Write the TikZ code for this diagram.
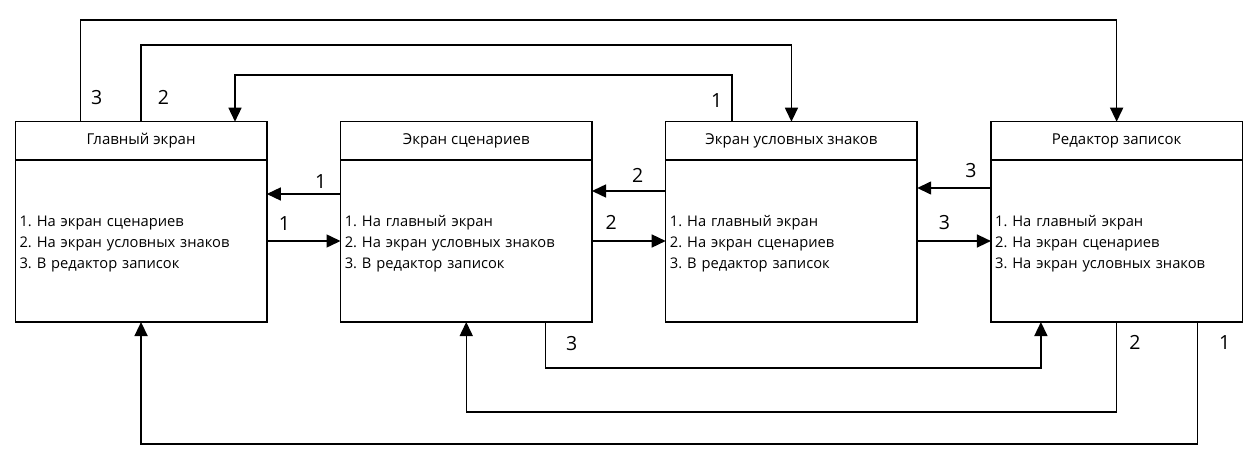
\documentclass[tikz,border=0pt]{standalone}
\usepackage{fontspec}
\setmainfont{Open Sans}
\frenchspacing
\usetikzlibrary{positioning}
\usetikzlibrary{arrows.meta}

\begin{document}
\begin{tikzpicture}[x=1pt,y=1pt]
	\tikzstyle{head}=[rectangle,draw,line width=1.5pt,outer sep=0pt,minimum width=251.5pt,minimum height=38.3pt,font=\fontsize{15}{18}\selectfont]
	\tikzstyle{body}=[rectangle,draw,line width=1.5pt,outer sep=0pt,minimum width=251.5pt,minimum height=162pt,text width=243pt,inner xsep=4pt,align=left,font=\fontsize{14.7}{21}\selectfont,execute at begin node={\rule{0pt}{16pt}}]
	\tikzstyle{arr}=[line width=1.5pt,-{Triangle[length=14pt,width=13pt]}]
	\tikzstyle{num}=[font=\fontsize{19.5}{20}\selectfont,inner sep=0pt]

	\useasboundingbox (0,0) rectangle (1253,459);

	% screens
	\node[head] (glh) at (141.05,318.15) {Главный экран};
	\node[body,below=0pt of glh] (gl) {1. На экран сценариев\\2. На экран условных знаков\\3. В редактор записок};
	\node[head,right=73.7pt of glh] (sch) {Экран сценариев};
	\node[body,below=0pt of sch] (sc) {1. На главный экран\\2. На экран условных знаков\\3. В редактор записок};
	\node[head,right=73.7pt of sch] (cdh) {Экран условных знаков};
	\node[body,below=0pt of cdh] (cd) {1. На главный экран\\2. На экран сценариев\\3. В редактор записок};
	\node[head,right=73.7pt of cdh] (rdh) {Редактор записок};
	\node[body,below=0pt of rdh] (rd) {1. На главный экран\\2. На экран сценариев\\3. На экран условных знаков};

	% neighbours
	\draw[arr] ([yshift=47pt]sc.west) -- node[num,above=5pt,pos=0.27]{1} ([yshift=47pt]gl.east);
	\draw[arr] (gl.east) -- node[num,above=10pt,pos=0.24]{1} (sc.west);
	\draw[arr] ([yshift=50pt]cd.west) -- node[num,above=8pt,pos=0.38]{2} ([yshift=50pt]sc.east);
	\draw[arr] (sc.east) -- node[num,above=11pt,pos=0.26]{2} (cd.west);
	\draw[arr] ([yshift=53pt]rd.west) -- node[num,above=10pt,pos=0.27]{3} ([yshift=53pt]cd.east);
	\draw[arr] (cd.east) -- node[num,above=11pt,pos=0.37]{3} (rd.west);

	% links over the top
	\coordinate (top1) at (0,384);
	\coordinate (top2) at (0,414);
	\coordinate (top3) at (0,439);
	\coordinate (t3s) at ([xshift=65pt]glh.north west);
	\draw[arr] (t3s) -- node[num,right=10pt,pos=0.24]{3} (t3s |- top3) -| (rdh.north);
	\draw[arr] (glh.north) -- node[num,right=16pt,pos=0.32]{2} (glh.north |- top2) -| (cdh.north);
	\coordinate (t1s) at ([xshift=66.3pt]cdh.north west);
	\coordinate (t1e) at ([xshift=219.7pt]glh.north west);
	\draw[arr] (t1s) -- node[num,left=9pt,pos=0.46]{1} (t1s |- top1) -| (t1e);

	% links under the bottom
	\coordinate (bot3) at (0,91);
	\coordinate (bot2) at (0,47);
	\coordinate (bot1) at (0,15);
	\coordinate (b3s) at ([xshift=204.8pt]sc.south west);
	\coordinate (b3e) at ([xshift=50pt]rd.south west);
	\draw[arr] (b3s) -- node[num,right=20pt,pos=0.46]{3} (b3s |- bot3) -| (b3e);
	\draw[arr] (rd.south) -- node[num,right=12pt,pos=0.23]{2} (rd.south |- bot2) -| (sc.south);
	\coordinate (b1s) at ([xshift=206.4pt]rd.south west);
	\draw[arr] (b1s) -- node[num,right=21pt,pos=0.17]{1} (b1s |- bot1) -| (gl.south);
\end{tikzpicture}
\end{document}
